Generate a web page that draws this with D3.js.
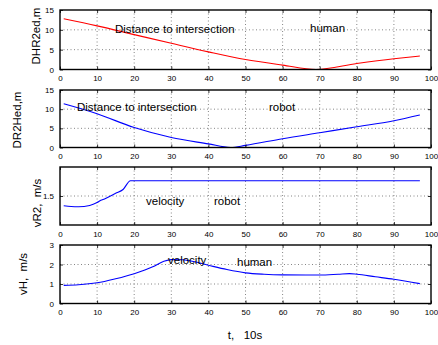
<!DOCTYPE html>
<html><head><meta charset="utf-8">
<script src="https://cdn.jsdelivr.net/npm/d3@7"></script>
<style>
body{margin:0;background:#fff;}
svg text{font-family:"Liberation Sans",Arial,sans-serif;fill:#000;}
</style></head><body>
<svg id="c" width="438" height="345"></svg>
<script>
// ---- data ----
const xTicks = [0,10,20,30,40,50,60,70,80,90,100];

const humanDistT = [1,10,20,30,40,50,60,69,80,90,97];
const humanDistV = [12.8,11.0,8.8,6.6,4.45,2.5,1.1,0,1.5,2.7,3.4];

const robotDistT = [1,10,20,30,40,46,50,60,70,80,90,97];
const robotDistV = [11.4,8.8,5.2,2.6,0.95,0,0.55,2.3,3.85,5.4,7.0,8.5];

const robotVelT = [1,3,5,8,10,11,12,15,17,19,30,50,70,90,97];
const robotVelV = [1.366,1.355,1.352,1.37,1.41,1.44,1.46,1.537,1.59,1.711,1.711,1.711,1.711,1.711,1.711];

const humanVelT = [1,5,10,15,20,25,28,30,33,35,40,45,50,55,60,70,75,78,80,85,90,97];
const humanVelV = [0.93,0.96,1.06,1.27,1.53,1.88,2.17,2.25,2.24,2.19,1.96,1.74,1.57,1.5,1.47,1.46,1.5,1.53,1.5,1.37,1.24,1.02];

const yTicks1 = [0,5,10,15];
const yTicks2 = [0,5,10,15];
const yTicks3 = [1.5];
const yTicks4 = [0,1,2,3];

const panels = [
  {top:10, bottom:69.5, domain:[0,15], ticks:yTicks1, t:humanDistT, v:humanDistV, color:"#ff0000",
   ylabel:"DHR2ed,m", ylx:36, yly:36,
   notes:[{s:"Distance to intersection",x:115,y:33},{s:"human",x:310,y:32}]},
  {top:90, bottom:147.5, domain:[0,15], ticks:yTicks2, t:robotDistT, v:robotDistV, color:"#0000ff",
   ylabel:"DR2Hed,m", ylx:17, yly:120,
   notes:[{s:"Distance to intersection",x:77,y:110.5},{s:"robot",x:269,y:111}]},
  {top:167, bottom:225, domain:[1.1,1.9], ticks:yTicks3, t:robotVelT, v:robotVelV, color:"#0000ff",
   ylabel:"vR2,  m/s", ylx:37, yly:203,
   notes:[{s:"velocity",x:146,y:205},{s:"robot",x:214,y:205}]},
  {top:245, bottom:303.5, domain:[0,3], ticks:yTicks4, t:humanVelT, v:humanVelV, color:"#0000ff",
   ylabel:"vH,  m/s", ylx:23, yly:274,
   notes:[{s:"velocity",x:168,y:263.5},{s:"human",x:237,y:266}]}
];

const svg = d3.select("#c");
const L = 60, R = 431;
const x = d3.scaleLinear().domain([0,100]).range([L,R]);

panels.forEach(p => {
  const y = d3.scaleLinear().domain(p.domain).range([p.bottom,p.top]);
  const g = svg.append("g");
  // grid
  g.selectAll(".vg").data(xTicks.slice(1,-1)).join("line")
    .attr("x1",d=>x(d)).attr("x2",d=>x(d)).attr("y1",p.top).attr("y2",p.bottom)
    .attr("stroke","#666").attr("stroke-width",0.8).attr("stroke-dasharray","1,2.5");
  g.selectAll(".hg").data(p.ticks.filter(d=>d>p.domain[0]&&d<p.domain[1])).join("line")
    .attr("x1",L).attr("x2",R).attr("y1",d=>y(d)).attr("y2",d=>y(d))
    .attr("stroke","#666").attr("stroke-width",0.8).attr("stroke-dasharray","1,2.5");
  // data line
  const line = d3.line().x((d,i)=>x(p.t[i])).y(d=>y(d)).curve(d3.curveMonotoneX);
  g.append("path").datum(p.v).attr("d",line).attr("fill","none")
    .attr("stroke",p.color).attr("stroke-width",1.1);
  // axes (inner ticks)
  const axB = d3.axisBottom(x).tickValues(xTicks).tickSizeInner(-3).tickSizeOuter(0).tickPadding(6);
  const axT = d3.axisTop(x).tickValues(xTicks).tickSizeInner(-3).tickSizeOuter(0).tickFormat("");
  const axLf = d3.axisLeft(y).tickValues(p.ticks).tickSizeInner(-3).tickSizeOuter(0).tickPadding(6).tickFormat(d3.format("~g"));
  const axRt = d3.axisRight(y).tickValues(p.ticks).tickSizeInner(-3).tickSizeOuter(0).tickFormat("");
  [[axB,`translate(0,${p.bottom})`],[axT,`translate(0,${p.top})`],[axLf,`translate(${L},0)`],[axRt,`translate(${R},0)`]]
    .forEach(([a,tr]) => {
      const ag = g.append("g").attr("transform",tr).call(a);
      ag.select(".domain").remove();
      ag.selectAll("line").attr("stroke","#000").attr("stroke-width",0.8);
      ag.selectAll("text").attr("font-size","8px").attr("font-family","Liberation Sans, Arial, sans-serif").attr("fill","#000");
    });
  // box
  g.append("rect").attr("x",L).attr("y",p.top).attr("width",R-L).attr("height",p.bottom-p.top)
    .attr("fill","none").attr("stroke","#000").attr("stroke-width",1.4);
  // y label
  g.append("text").attr("transform",`translate(${p.ylx},${p.yly}) rotate(-90)`)
    .attr("text-anchor","middle").attr("dominant-baseline","central")
    .style("white-space","pre").attr("font-size","11.5px").text(p.ylabel);
  // notes
  p.notes.forEach(n => {
    g.append("text").attr("x",n.x).attr("y",n.y).attr("font-size","11.5px").text(n.s);
  });
});

svg.append("text").attr("x",245).attr("y",339).attr("text-anchor","middle")
  .style("white-space","pre").attr("font-size","11.5px").text("t,   10s");
</script>
</body></html>
